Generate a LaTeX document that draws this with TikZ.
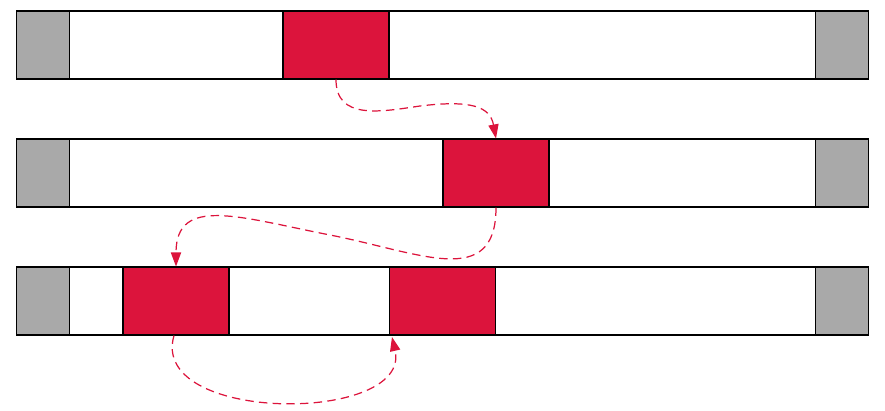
\documentclass[tikz,border=0pt]{standalone}
\usepackage{xcolor}
\usepackage{tikz}
\usetikzlibrary{arrows.meta}
\definecolor{crimson}{HTML}{DC143C}
\definecolor{capgray}{HTML}{A9A9A9}
\definecolor{edge}{HTML}{000000}
\tikzset{
  bar/.style={draw=edge, line width=0.6pt, fill=white, minimum width=17.06cm, minimum height=1.36cm, inner sep=0pt},
  endcap/.style={draw=edge, line width=0.6pt, fill=capgray, minimum width=1.06cm, minimum height=1.36cm, inner sep=0pt},
  block/.style={draw=edge, line width=0.6pt, fill=crimson, minimum width=2.12cm, minimum height=1.36cm, inner sep=0pt},
  hop/.style={draw=crimson, line width=0.7pt, dash pattern=on 4.8pt off 3pt,
    -{Triangle[length=8pt,width=5.8pt]}}
}
\begin{document}
\begin{tikzpicture}[x=0.02cm, y=-0.02cm]
  \useasboundingbox (0,0) rectangle (885,411);

  % three rows, grey end caps on both sides
  \foreach \row/\ypos in {1/45, 2/173, 3/301} {
    \node[bar] (bar\row) at (442.5,\ypos) {};
    \node[endcap, anchor=west] (capl\row) at (bar\row.west) {};
    \node[endcap, anchor=east] (capr\row) at (bar\row.east) {};
  }

  % red blocks
  \node[block] (blk1) at (336,45) {};
  \node[block] (blk2) at (496,173) {};
  \node[block] (blk3a) at (176,301) {};
  \node[block] (blk3b) at (442.5,301) {};

  % dashed moves between the rows
  \draw[hop] (blk1.south) .. controls (336,120) and (380,112) .. (420,106)
    .. controls (470,100) and (490,106) .. (blk2.north);
  \draw[hop] (blk2.south) .. controls (496,290) and (420,252.6) .. (330,235)
    .. controls (240,217.4) and (176,195) .. (blk3a.north);
  \draw[hop] ([xshift=-0.04cm]blk3a.south) .. controls (148,424) and (412,424)
    .. ([xshift=0.06cm,yshift=-0.03cm]blk3b.south west);
\end{tikzpicture}
\end{document}
